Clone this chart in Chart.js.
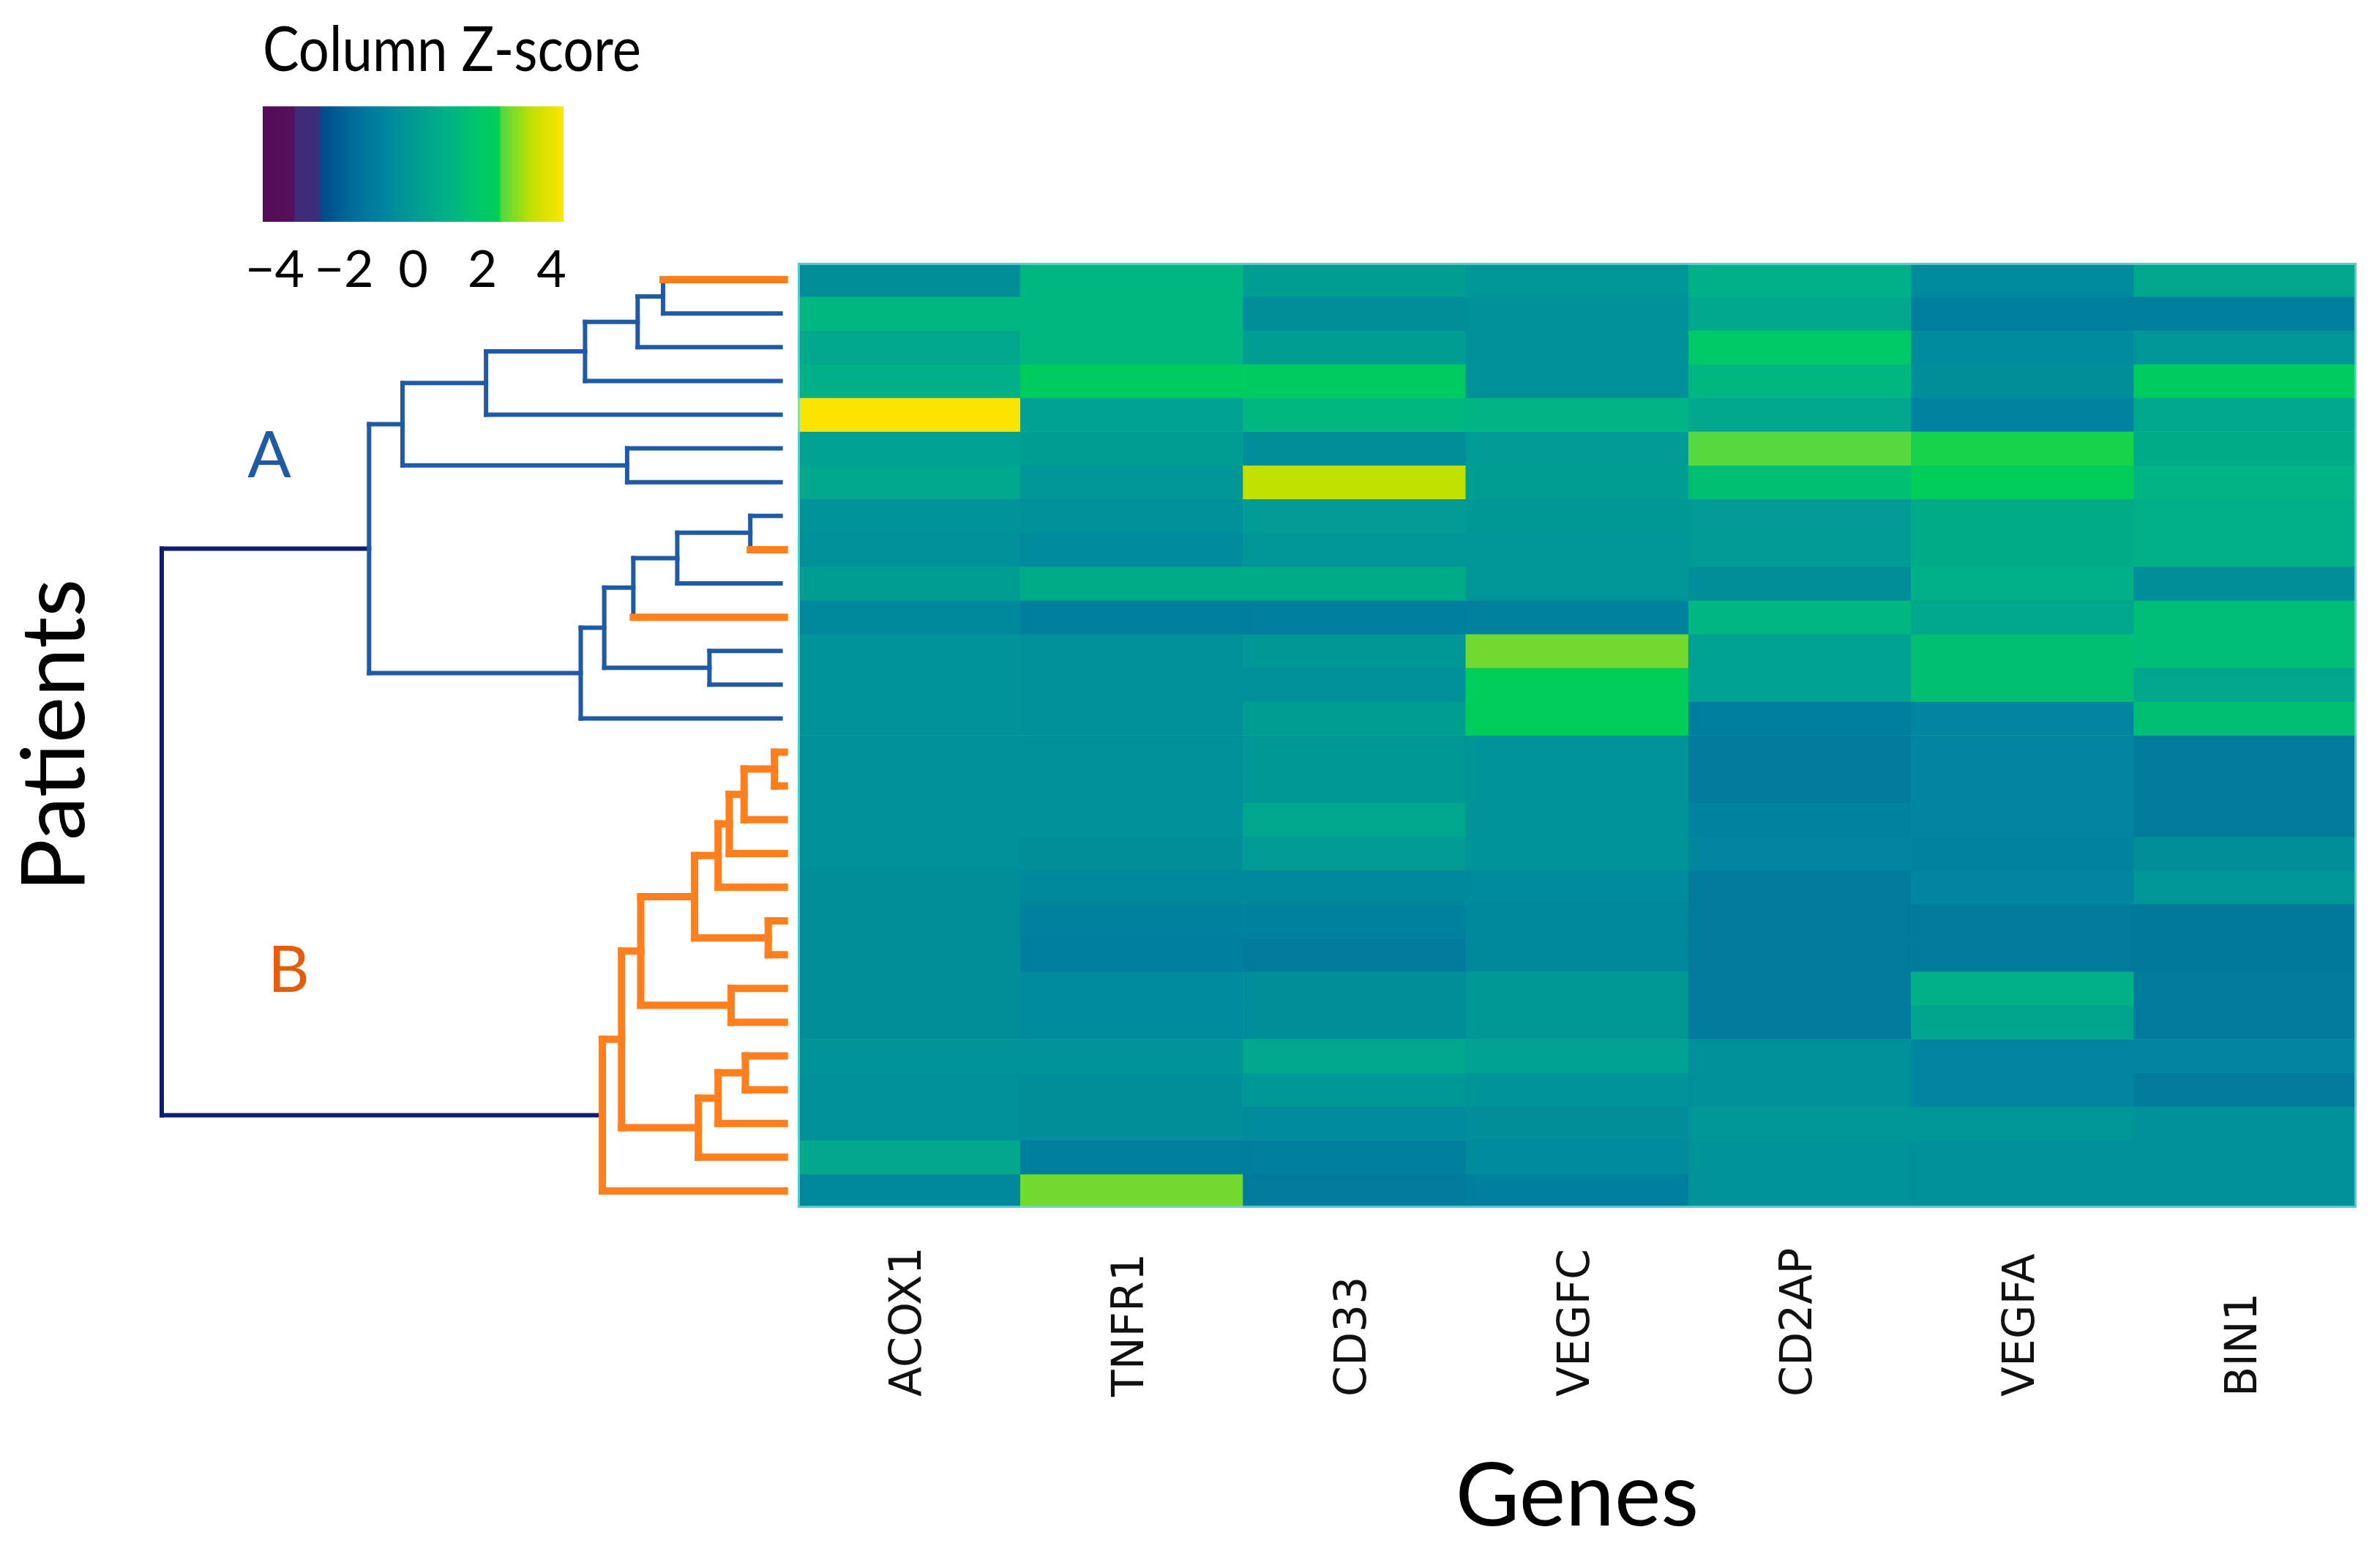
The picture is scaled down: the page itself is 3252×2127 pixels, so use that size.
<!DOCTYPE html>
<html>
<head>
<meta charset="utf-8">
<script src="https://cdn.jsdelivr.net/npm/chart.js@4.4.1/dist/chart.umd.min.js"></script>
<style>
html,body{margin:0;padding:0;background:#fff;width:3252px;height:2127px;overflow:hidden;}
.box{position:absolute;}
</style>
</head>
<body>
<div class="box" style="left:300px;top:0px;width:576px;height:413px"><canvas id="cb"></canvas></div>
<div class="box" style="left:0px;top:359px;width:1092px;height:1291px"><canvas id="dend"></canvas></div>
<div class="box" style="left:1090px;top:359px;width:2130px;height:1768px"><canvas id="hm"></canvas></div>
<script>
// ---------------- DATA ----------------
const genes = ['ACOX1','TNFR1','CD33','VEGFC','CD2AP','VEGFA','BIN1'];
const patients = Array.from({length:28}, (_, i) => 'P' + (i + 1));

// column z-scores, rows top -> bottom (patients in dendrogram order)
const ACOX1 = [-0.5,1.2,0.6,0.9,4.3,0.2,0.5,-0.3,-0.4,0.1,-0.7,-0.3,-0.3,-0.3,
               -0.4,-0.4,-0.4,-0.4,-0.5,-0.5,-0.5,-0.5,-0.5,-0.3,-0.4,-0.4,0.6,-0.7];
const TNFR1 = [1.2,1.2,1.2,2.2,0.2,0.1,-0.2,-0.4,-0.6,0.7,-1.1,-0.4,-0.4,-0.4,
               -0.4,-0.4,-0.4,-0.5,-0.7,-1.0,-1.1,-0.6,-0.6,-0.3,-0.5,-0.5,-1.1,2.8];
const CD33  = [0.1,-0.5,0.1,2.2,1.2,-0.5,3.4,0.0,-0.2,0.7,-1.1,-0.1,-0.4,0.1,
               -0.1,-0.1,0.5,0.0,-0.7,-1.0,-1.2,-0.5,-0.5,0.5,-0.1,-0.6,-1.1,-1.2];
const VEGFC = [-0.2,-0.4,-0.4,-0.4,1.1,0.0,0.1,-0.1,-0.2,-0.2,-1.0,2.8,2.3,2.3,
               -0.3,-0.3,-0.3,-0.3,-0.6,-0.7,-0.7,-0.1,-0.1,0.2,-0.3,-0.5,-0.6,-1.1];
const CD2AP = [0.9,0.6,2.0,1.2,0.6,2.6,1.6,0.0,0.0,-0.5,1.2,0.2,0.2,-1.1,
               -1.2,-1.2,-0.9,-0.8,-1.2,-1.2,-1.2,-1.2,-1.2,-0.4,-0.4,-0.2,-0.3,-0.3];
const VEGFA = [-0.6,-1.1,-0.6,-0.5,-0.9,2.5,2.3,0.7,0.7,0.9,0.5,1.6,1.6,-0.8,
               -0.8,-0.8,-0.8,-0.9,-0.8,-1.2,-1.2,0.9,0.4,-0.8,-0.8,-0.2,-0.4,-0.4];
const BIN1  = [0.5,-1.1,-0.2,2.2,0.5,0.7,1.1,0.9,0.9,-0.5,1.5,1.5,0.5,1.6,
               -1.2,-1.2,-1.2,-0.5,-0.2,-1.3,-1.3,-1.2,-1.2,-0.8,-1.2,-0.4,-0.4,-0.4];
const geneValues = [ACOX1, TNFR1, CD33, VEGFC, CD2AP, VEGFA, BIN1];

// patient group per leaf (row)
const patientGroup = ['B','A','A','A','A','A','A','A','B','A','B','A','A','A',
                      'B','B','B','B','B','B','B','B','B','B','B','B','B','B'];

// dendrogram merges: leaves 0..27, merge k creates node 28+k
const mergeLeft   = [0, 28, 29, 30, 5, 31, 7, 34, 35, 11, 36, 38, 33,
                     14, 41, 42, 43, 19, 44, 21, 46, 23, 49, 50, 48, 52, 40];
const mergeRight  = [1, 2, 3, 4, 6, 32, 8, 9, 10, 12, 37, 13, 39,
                     15, 16, 17, 18, 20, 45, 22, 47, 24, 25, 26, 51, 27, 53];
const mergeHeight = [1.90, 2.31, 3.16, 4.76, 2.48, 6.11, 0.49, 1.67, 2.38, 1.15, 2.85, 3.23, 6.65,
                     0.10, 0.59, 0.83, 1.01, 0.20, 1.39, 0.80, 2.26, 0.57, 1.01, 1.33, 2.57, 2.88, 10.0];
const clusterNames = ['A', 'B'];
const clusterNodes = [40, 53];

// colour scale (Column Z-score)
const zMin = -4.35, zMax = 4.35;
const zTicks = [-4, -2, 0, 2, 4];
const cmapValues = [-4.35, -3.45, -3.40, -2.72, -2.66, -1.7, -0.8, 0.2, 1.1, 2.0, 2.48, 2.55, 3.4, 4.35];
const cmapColors = ['#560a58','#54115d','#40297a','#3a2e78','#004a8a','#006e9a','#00869e','#00a092',
                    '#00b484','#00c866','#00d052','#50d840','#c0e000','#ffe400'];

// ---------------- HELPERS ----------------
Chart.defaults.font.family = 'Lato';
Chart.defaults.color = '#000';

function hexToRgb(h){ const n = parseInt(h.slice(1),16); return [(n>>16)&255,(n>>8)&255,n&255]; }
const cmapRgb = cmapColors.map(hexToRgb);
function colormap(v){
  if (v <= cmapValues[0]) return cmapColors[0];
  for (let i = 1; i < cmapValues.length; i++){
    if (v <= cmapValues[i]){
      const t = (v - cmapValues[i-1]) / (cmapValues[i] - cmapValues[i-1]);
      const a = cmapRgb[i-1], b = cmapRgb[i];
      const c = a.map((x, k) => Math.round(x + (b[k] - x) * t));
      return 'rgb(' + c.join(',') + ')';
    }
  }
  return cmapColors[cmapColors.length-1];
}

const BLUE = '#1f5aa6', ORANGE = '#ff7f1f', NAVY = '#0c1e6c';

// ---------------- COLOUR BAR ----------------
function colorbarFill(context){
  const chart = context.chart;
  const x = chart.scales.x;
  if (!chart.chartArea || !x) return cmapColors[6];
  const g = chart.ctx.createLinearGradient(x.getPixelForValue(zMin), 0, x.getPixelForValue(zMax), 0);
  cmapValues.forEach((v, i) => g.addColorStop((v - zMin) / (zMax - zMin), cmapColors[i]));
  return g;
}
new Chart(document.getElementById('cb'), {
  type: 'bar',
  data: { labels: ['z'], datasets: [{ data: [[zMin, zMax]], backgroundColor: colorbarFill,
           borderWidth: 0, barPercentage: 1, categoryPercentage: 1 }] },
  options: {
    indexAxis: 'y', animation: false, responsive: true, maintainAspectRatio: false,
    layout: { padding: { left: 59, right: 0, top: 0, bottom: 0 } },
    plugins: {
      legend: { display: false }, tooltip: { enabled: false },
      title: { display: true, text: 'Column Z-score', align: 'start', color: '#000',
               font: { family: 'Lato', size: 86, weight: 'normal' }, padding: { top: 18, bottom: 24 } }
    },
    scales: {
      x: { type: 'linear', min: zMin, max: zMax,
           grid: { display: false, drawTicks: false }, border: { display: false },
           afterBuildTicks: s => { s.ticks = zTicks.map(v => ({ value: v })); },
           ticks: { padding: 24, color: '#000', font: { family: 'Lato', size: 70 },
                    callback: v => String(v).replace('-', '\u2212') },
           afterFit: s => { s.height = 110; } },
      y: { display: false },
      yr: { type: 'linear', position: 'right', display: true, grid: { display: false },
            border: { display: false }, ticks: { display: false }, afterFit: s => { s.width = 106; } }
    }
  }
});

// ---------------- DENDROGRAM ----------------
const nLeaves = patientGroup.length;
const nodeH = [], nodeY = [], nodeCluster = [];
for (let i = 0; i < nLeaves; i++){ nodeH[i] = patientGroup[i] === 'B' ? -0.06 : 0; nodeY[i] = i + 0.5; }
mergeHeight.forEach((h, k) => {
  const id = nLeaves + k;
  nodeH[id] = h;
  nodeY[id] = (nodeY[mergeLeft[k]] + nodeY[mergeRight[k]]) / 2;
});
const rootId = nLeaves + mergeHeight.length - 1;
function markCluster(id, name){
  nodeCluster[id] = name;
  if (id >= nLeaves){ const k = id - nLeaves; markCluster(mergeLeft[k], name); markCluster(mergeRight[k], name); }
}
clusterNodes.forEach((id, i) => markCluster(id, clusterNames[i]));
function nodeStyle(id){
  if (id === rootId) return { c: NAVY, w: 6 };
  const g = id < nLeaves ? patientGroup[id] : nodeCluster[id];
  return g === 'B' ? { c: ORANGE, w: 10 } : { c: BLUE, w: 6 };
}
const dendSets = [];
function seg(x1, y1, x2, y2, st){
  dendSets.push({ data: [{ x: x1, y: y1 }, { x: x2, y: y2 }], showLine: true, pointRadius: 0,
    borderColor: st.c, borderWidth: st.w, borderCapStyle: 'square', clip: false, order: st.c === ORANGE ? 0 : 1 });
}
mergeHeight.forEach((h, k) => {
  const id = nLeaves + k, L = mergeLeft[k], R = mergeRight[k];
  const st = nodeStyle(id);
  seg(h, nodeY[L], h, nodeY[R], st);
  [L, R].forEach(c => seg(h, nodeY[c], nodeH[c], nodeY[c], id === rootId ? st : nodeStyle(c)));
});

const clusterLabelPlugin = {
  id: 'clusterLabels',
  afterDatasetsDraw(chart){
    const { ctx, scales: { x, y } } = chart;
    const spots = [{ t: 'A', h: 8.26, r: 5.75, c: '#1f5aa6' }, { t: 'B', h: 7.95, r: 20.98, c: '#e35d0c' }];
    ctx.save();
    ctx.font = '88px Lato';
    ctx.textAlign = 'center'; ctx.textBaseline = 'middle';
    spots.forEach(s => { ctx.fillStyle = s.c; ctx.fillText(s.t, x.getPixelForValue(s.h), y.getPixelForValue(s.r)); });
    ctx.restore();
  }
};
new Chart(document.getElementById('dend'), {
  type: 'scatter',
  data: { datasets: dendSets },
  options: {
    animation: false, responsive: true, maintainAspectRatio: false,
    layout: { padding: 0 },
    plugins: { legend: { display: false }, tooltip: { enabled: false } },
    scales: {
      x: { type: 'linear', min: -0.3, max: 10, reverse: true, display: false },
      y: { type: 'linear', min: 0, max: 28, reverse: true,
           grid: { display: false }, border: { display: false }, ticks: { display: false },
           title: { display: true, text: 'Patients', color: '#000', font: { family: 'Lato', size: 120 },
                    padding: { top: 4, bottom: 0 } },
           afterFit: s => { s.width = 221; } }
    }
  },
  plugins: [clusterLabelPlugin]
});

// ---------------- HEATMAP ----------------
const geneLabelPlugin = {
  id: 'geneLabels',
  afterDraw(chart){
    const { ctx, scales: { x }, chartArea } = chart;
    ctx.save();
    ctx.strokeStyle = 'rgba(110,215,215,0.8)';
    ctx.lineWidth = 3;
    ctx.strokeRect(chartArea.left + 1.5, chartArea.top + 1.5, chartArea.width - 3, chartArea.height - 3);
    ctx.font = '60px "DejaVu Sans"';
    ctx.fillStyle = '#111';
    ctx.textAlign = 'left'; ctx.textBaseline = 'middle';
    genes.forEach((g, i) => {
      ctx.save();
      ctx.translate(x.getPixelForTick(i), chartArea.bottom + 258);
      ctx.rotate(-Math.PI / 2);
      ctx.fillText(g, 0, 0);
      ctx.restore();
    });
    ctx.restore();
  }
};
new Chart(document.getElementById('hm'), {
  type: 'bar',
  data: {
    labels: genes,
    datasets: patients.map((p, i) => ({
      label: p,
      data: genes.map(() => 1),
      backgroundColor: geneValues.map(col => colormap(col[i])),
      borderWidth: 0, barPercentage: 1, categoryPercentage: 1, stack: 'rows'
    }))
  },
  options: {
    animation: false, responsive: true, maintainAspectRatio: false,
    layout: { padding: 0 },
    plugins: { legend: { display: false }, tooltip: { enabled: false } },
    scales: {
      x: { stacked: true, grid: { display: false }, border: { display: false }, ticks: { display: false },
           title: { display: true, text: 'Genes', color: '#000', font: { family: 'Lato', size: 120 },
                    padding: { top: 0, bottom: 10 } },
           afterFit: s => { s.height = 477; } },
      y: { stacked: true, min: 0, max: 28, reverse: true, display: false }
    }
  },
  plugins: [geneLabelPlugin]
});
</script>
</body>
</html>
